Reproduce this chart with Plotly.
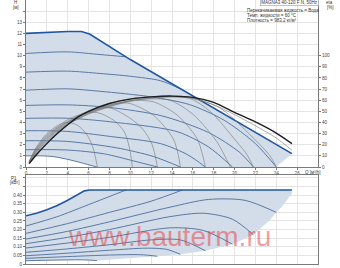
import plotly.graph_objects as go

# ---------------- data ----------------
Q_TICKS = [0, 2, 4, 6, 8, 10, 12, 14, 16, 18, 20, 22, 24, 26]
H_TICKS = list(range(0, 15))
H_LABELS = [str(v) for v in range(0, 14)] + [""]
ETA_TICKS = [0, 10, 20, 30, 40, 50, 60, 70, 80, 90, 100]
P_TICKS = [0, 0.05, 0.10, 0.15, 0.20, 0.25, 0.30, 0.35, 0.40, 0.45, 0.50]
P_LABELS = ["0", "0.05", "0.10", "0.15", "0.20", "0.25", "0.30", "0.35", "0.40", "", ""]

# max curve H(Q)
Q_MAX = [0, 2, 4, 5.3, 6.1, 10, 14, 18, 22, 25.5]
H_MAX = [12.0, 12.1, 12.17, 12.17, 11.95, 9.65, 7.45, 5.25, 3.1, 1.2]
# right / bottom edge of the operating area
Q_EDGE = [25.5, 24.0, 6.8]
H_EDGE = [1.2, 0, 0]
# min curve (lower boundary)
Q_MIN = [0, 1.5, 2.66, 4.26, 5.86, 6.8]
H_MIN = [1.0, 1.0, 0.93, 0.63, 0.24, 0]

# constant speed curves
Q_S2 = [0, 3.9, 7.5, 10.3, 12.6]
H_S2 = [1.55, 1.53, 1.18, 0.55, 0]
Q_S3 = [0, 3.9, 8.7, 12.2, 14.8]
H_S3 = [2.36, 2.3, 1.72, 0.95, 0]
Q_S4 = [0, 3.9, 8.1, 12.9, 15.5, 17.2]
H_S4 = [3.26, 3.2, 2.74, 2.1, 1.1, 0]
Q_S5 = [0, 4, 8.1, 14.5, 17.5, 19.8]
H_S5 = [4.37, 4.38, 4.06, 3.17, 1.8, 0]
Q_S6 = [0, 4, 8, 13, 17.5, 20.5, 21.8]
H_S6 = [5.53, 5.58, 5.35, 4.6, 3.1, 1.3, 0]
Q_S7 = [0, 4, 7.1, 12, 15.7, 19, 22, 24]
H_S7 = [6.9, 7.02, 6.8, 6.3, 5.6, 4.2, 2.1, 0]
Q_S8 = [0, 4, 7.1, 10, 12.9, 14.9]
H_S8 = [8.52, 8.61, 8.4, 8.15, 7.75, 6.98]
Q_S9 = [0, 4, 7.1, 9.6]
H_S9 = [10.2, 10.34, 10.1, 9.9]

# efficiency curves [%]
Q_E1 = [0.3, 1, 2, 3, 3.8, 4.9, 5.86, 6.4, 6.85]
E_E1 = [5, 18, 30, 37, 40, 37.7, 28.7, 18, 0]
Q_E2 = [0.3, 1, 2, 3, 4, 5, 6, 7, 8.4, 9.4, 9.9, 10.2]
E_E2 = [5, 17, 28.5, 36, 42.5, 46.5, 49, 48.5, 42, 32, 18, 0]
Q_E3 = [0.3, 1, 2, 3, 4, 5, 6, 7, 8.1, 10, 11.2, 12.1, 12.6]
E_E3 = [4.5, 16, 27.5, 35, 41, 46, 50, 52.5, 53, 43.7, 34, 20, 0]
Q_E4 = [0.3, 1, 2, 3, 4, 6, 8, 9, 10, 12.2, 14.1, 14.6, 14.8]
E_E4 = [4.5, 15.5, 26.5, 34.5, 40.5, 49.5, 56, 57.5, 57, 46.6, 25.7, 11, 0]
Q_E5 = [0.3, 1, 2, 3, 4, 6, 8, 10, 12.2, 14.5, 16.4, 16.9, 17.2]
E_E5 = [4, 14.5, 25.5, 33.5, 40, 49, 55.5, 59.5, 58.6, 46.6, 25.7, 12, 0]
Q_E6 = [0.3, 1, 2, 3, 4, 6, 8, 10, 11.5, 13.8, 16.1, 18.3, 19, 19.6]
E_E6 = [4, 14, 24.5, 33, 39, 48.5, 55, 59.5, 61, 60, 46.6, 22.7, 11, 0]
Q_E7 = [0.3, 1, 2, 3, 4, 6, 8, 10, 13, 15.7, 17.7, 20.2, 21.2, 21.8]
E_E7 = [3.5, 13, 23.5, 32, 38.5, 48, 54.5, 59.5, 62.5, 61.6, 49.6, 22.7, 11, 0]
Q_E8 = [0.3, 1, 2, 3, 4, 6, 8, 10, 12, 15, 18.6, 21.8, 23.4, 24]
E_E8 = [3.5, 12, 22, 31, 38, 47.5, 54, 59, 62, 63.5, 53, 26, 10, 0]
Q_E9 = [0.3, 1, 2, 3, 4, 5, 6, 8, 10, 12, 14, 16, 18, 20, 22, 24, 25.5]
E_E9 = [3.2, 11.5, 21.5, 30.5, 38.5, 45.5, 50.5, 57.3, 61.3, 63, 63.4, 61.5, 56, 47, 37, 26, 15]
Q_ETA = [0.3, 1, 2, 3, 4, 5, 6, 8, 10, 12, 14, 16, 18, 20, 22, 24, 25.5]
E_ETA = [3, 11, 21, 30, 38, 45, 50, 57, 61, 63, 63.7, 62.5, 58, 49, 40.5, 30.5, 21]

# power P1 [kW]
Q_PMAX = [0, 1, 2, 3, 4, 5, 5.6, 6.1, 25.5]
P_PMAX = [0.28, 0.295, 0.315, 0.34, 0.37, 0.405, 0.425, 0.43, 0.43]
Q_PEDGE = [25.5, 25.5, 24.5, 24, 23.4, 21.8, 19.8, 17.2, 14.8, 12.6, 10, 6.8]
P_PEDGE = [0.43, 0.41, 0.33, 0.3, 0.256, 0.17, 0.115, 0.077, 0.056, 0.045, 0.033, 0.02]
Q_P1 = [0, 3, 5.5, 6.8]
P_P1 = [0.019, 0.023, 0.024, 0.02]
Q_P2 = [0, 4, 8, 11, 12.6]
P_P2 = [0.033, 0.043, 0.052, 0.054, 0.045]
Q_P3 = [0, 4, 8, 11.5, 13.5, 14.8]
P_P3 = [0.048, 0.063, 0.08, 0.092, 0.085, 0.056]
Q_P4 = [0, 4, 8, 12, 14.8, 17.2]
P_P4 = [0.068, 0.088, 0.112, 0.14, 0.14, 0.077]
Q_P5 = [0, 4, 8, 13.8, 17, 19.8]
P_P5 = [0.093, 0.122, 0.155, 0.21, 0.195, 0.115]
Q_P6 = [0, 4, 8, 13.8, 17, 19.8, 21.8]
P_P6 = [0.118, 0.155, 0.2, 0.275, 0.295, 0.26, 0.17]
Q_P7 = [0, 4, 8, 13.8, 17.5, 21, 24]
P_P7 = [0.145, 0.19, 0.245, 0.33, 0.375, 0.37, 0.3]
Q_P8 = [0, 4, 8, 12, 15.0]
P_P8 = [0.178, 0.235, 0.3, 0.365, 0.43]
Q_P9 = [0, 3, 6, 9.6]
P_P9 = [0.221, 0.275, 0.345, 0.43]

# ---------------- styles ----------------
W, HGT = 340, 268
ML, MR, MT, MB = 26, 22, 0, 4
PW, PH = W - ML - MR, HGT - MT - MB
SHADE = "rgb(210,221,233)"
BLUE_MAX = "#2356a0"
BLUE = "#4d6d9c"
GRAY = "#767676"
GRID = "#e4e4e4"
AX = "#7a7a7a"
FONT = "Liberation Sans"
TXT = "#444444"


def px(x):
    return (x - ML) / PW


def py(y):
    return 1 - (y - MT) / PH


fig = go.Figure()

# operating area (top)
fig.add_trace(go.Scatter(
    x=Q_MAX + Q_EDGE + Q_MIN[::-1] + [Q_MAX[0]],
    y=H_MAX + H_EDGE + H_MIN[::-1] + [H_MAX[0]],
    fill="toself", fillcolor=SHADE, mode="lines", line=dict(width=0),
    xaxis="x", yaxis="y", hoverinfo="skip"))

speed = [(Q_MIN, H_MIN), (Q_S2, H_S2), (Q_S3, H_S3), (Q_S4, H_S4), (Q_S5, H_S5),
         (Q_S6, H_S6), (Q_S7, H_S7), (Q_S8, H_S8), (Q_S9, H_S9)]
for q, h in speed:
    fig.add_trace(go.Scatter(x=q, y=h, mode="lines", xaxis="x", yaxis="y",
                             line=dict(color=BLUE, width=0.9, shape="spline", smoothing=0.8)))
fig.add_trace(go.Scatter(x=Q_MAX, y=H_MAX, mode="lines", xaxis="x", yaxis="y",
                         line=dict(color=BLUE_MAX, width=1.6)))

effs = [(Q_E1, E_E1), (Q_E2, E_E2), (Q_E3, E_E3), (Q_E4, E_E4), (Q_E5, E_E5),
        (Q_E6, E_E6), (Q_E7, E_E7), (Q_E8, E_E8), (Q_E9, E_E9)]
for q, e in effs:
    fig.add_trace(go.Scatter(x=q, y=e, mode="lines", xaxis="x", yaxis="y2",
                             line=dict(color=GRAY, width=0.6, shape="spline", smoothing=0.8)))
fig.add_trace(go.Scatter(x=Q_ETA, y=E_ETA, mode="lines", xaxis="x", yaxis="y2",
                         line=dict(color="#1e1e1e", width=1.4, shape="spline", smoothing=0.8)))

# power area (bottom)
fig.add_trace(go.Scatter(
    x=Q_PMAX + Q_PEDGE + Q_P1[::-1] + [Q_PMAX[0]],
    y=P_PMAX + P_PEDGE + P_P1[::-1] + [P_PMAX[0]],
    fill="toself", fillcolor=SHADE, mode="lines", line=dict(width=0),
    xaxis="x2", yaxis="y3", hoverinfo="skip"))
powers = [(Q_P1, P_P1), (Q_P2, P_P2), (Q_P3, P_P3), (Q_P4, P_P4), (Q_P5, P_P5),
          (Q_P6, P_P6), (Q_P7, P_P7), (Q_P8, P_P8), (Q_P9, P_P9)]
for q, p in powers:
    fig.add_trace(go.Scatter(x=q, y=p, mode="lines", xaxis="x2", yaxis="y3",
                             line=dict(color=BLUE, width=0.9, shape="spline", smoothing=0.8)))
fig.add_trace(go.Scatter(x=Q_PMAX, y=P_PMAX, mode="lines", xaxis="x2", yaxis="y3",
                         line=dict(color=BLUE_MAX, width=1.6)))

tickfont = dict(family=FONT, size=4.6, color=TXT)
common = dict(showgrid=True, gridcolor=GRID, gridwidth=0.8, zeroline=False,
              layer="above traces", tickfont=tickfont, ticks="outside",
              ticklen=2, tickcolor=AX, tickwidth=0.6, showline=True,
              linecolor=AX, linewidth=0.8)

TOP_DOM = [1 - 167 / PH, 1]
BOT_DOM = [0, (HGT - MB - 174.5) / PH]

fig.update_layout(
    width=W, height=HGT, margin=dict(l=ML, r=MR, t=MT, b=MB),
    paper_bgcolor="white", plot_bgcolor="white", showlegend=False,
    xaxis=dict(domain=[0, 1], range=[0, 28], anchor="y", tickvals=Q_TICKS, **common),
    yaxis=dict(domain=TOP_DOM, range=[0, 15], anchor="x", tickvals=H_TICKS,
               ticktext=H_LABELS, mirror=True, **common),
    yaxis2=dict(overlaying="y", side="right", range=[0, 150], anchor="x",
                tickvals=ETA_TICKS, showgrid=False, zeroline=False, tickfont=tickfont,
                ticks="outside", ticklen=2, tickcolor=AX, tickwidth=0.6, showline=False),
    xaxis2=dict(domain=[0, 1], range=[0, 28], anchor="y3", tickvals=Q_TICKS,
                showticklabels=False, mirror=True,
                **{k: v for k, v in common.items() if k not in ("ticks",)}),
    yaxis3=dict(domain=BOT_DOM, range=[0, 0.52], anchor="x2", tickvals=P_TICKS,
                ticktext=P_LABELS, mirror=True, **common),
)

small = dict(family=FONT, size=4.5, color="#333333")
ann = [
    dict(x=px(15.8), y=py(2.3), text="H", font=small),
    dict(x=px(15.8), y=py(7.3), text="[м]", font=small),
    dict(x=px(13.9), y=py(178), text="P1", font=small),
    dict(x=px(14.2), y=py(182.6), text="[кВт]", font=small),
    dict(x=px(329.8), y=py(2.7), text="eta", font=small),
    dict(x=px(330), y=py(7.3), text="[%]", font=small),
    dict(x=px(303), y=py(172), text="Q [м³/h]", font=small, xanchor="left"),
    dict(x=px(289.5), y=py(2.6), text="MAGNA3 40-120 F N, 50Hz", font=small,
         bordercolor="#9a9a9a", borderwidth=0.6, borderpad=0.6, bgcolor="white"),
    dict(x=px(245), y=py(11), text="Перекачиваемая жидкость = Вода", font=small, xanchor="left"),
    dict(x=px(245), y=py(16), text="Темп. жидкости = 60 °C", font=small, xanchor="left"),
    dict(x=px(245), y=py(20.8), text="Плотность = 983.2 кг/м³", font=small, xanchor="left"),
    dict(x=px(169), y=py(236), text="www.bauterm.ru",
         font=dict(family=FONT, size=28, color="rgba(232,60,60,0.5)")),
]
for a in ann:
    a.setdefault("xanchor", "center")
    a.update(xref="paper", yref="paper", yanchor="middle", showarrow=False)
fig.update_layout(annotations=ann)

fig.write_html("out.html")
